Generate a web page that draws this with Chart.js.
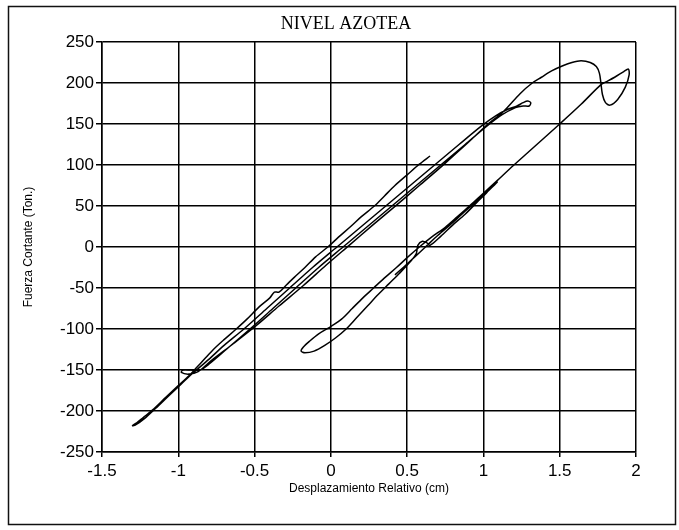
<!DOCTYPE html>
<html>
<head>
<meta charset="utf-8">
<script src="https://cdn.jsdelivr.net/npm/chart.js@4.4.1/dist/chart.umd.min.js"></script>
<style>
  html, body { margin: 0; padding: 0; background: #fff; }
  #wrap { width: 679px; height: 530px; position: relative; }
</style>
</head>
<body>
<div id="wrap"><canvas id="c" width="679" height="530"></canvas></div>
<script>
// Lazo histerético, nivel azotea: desplazamiento relativo (cm) vs. fuerza cortante (Ton.)
const desplazamiento = [
  0.65, 0.58, 0.50, 0.42, 0.35, 0.285, 0.20, 0.13, 0.05, -0.02, -0.10, -0.17, -0.24, -0.29, -0.34, -0.37, -0.40, -0.47, -0.55, -0.62, -0.70, -0.77, -0.83, -0.88,
  -0.93, -1.00, -1.08, -1.17, -1.23, -1.27, -1.30, -1.28, -1.22, -1.15, -1.06, -0.98, -0.90,
  -0.80, -0.70, -0.57, -0.42, -0.27, -0.12, 0.04, 0.20, 0.36, 0.52, 0.68, 0.84, 0.99, 1.08, 1.16, 1.22, 1.26, 1.29, 1.31, 1.30, 1.26, 1.21,
  1.12, 1.02, 0.88, 0.72, 0.56, 0.40, 0.24, 0.08, -0.08, -0.23, -0.38, -0.53, -0.68, -0.80, -0.86, -0.92, -0.97, -0.98, -0.93, -0.87,
  -0.78, -0.64, -0.49, -0.34, -0.18, -0.03, 0.12, 0.27, 0.43, 0.58, 0.73, 0.88, 1.03, 1.13, 1.24, 1.32, 1.38, 1.45, 1.52, 1.58, 1.64, 1.70, 1.74, 1.76, 1.77,
  1.78, 1.80, 1.83, 1.88, 1.93, 1.955, 1.95, 1.92, 1.86, 1.80, 1.77,
  1.64, 1.50, 1.35, 1.20, 1.09,
  0.98, 0.92, 0.83, 0.75, 0.66, 0.58, 0.50, 0.43, 0.35, 0.28, 0.21, 0.14, 0.07, 0.00, -0.08, -0.14, -0.18, -0.195,
  -0.17, -0.11, -0.04, 0.03, 0.10, 0.17, 0.24, 0.31, 0.38, 0.45, 0.52, 0.56, 0.57, 0.60, 0.63, 0.65, 0.72, 0.80, 0.88, 0.96, 1.02, 1.07, 1.09,
  1.04, 0.97, 0.90, 0.80, 0.70, 0.62, 0.55, 0.48, 0.42
];
const cortante = [
  111, 101, 88, 75, 62, 50, 37, 25, 12, 0, -12, -25, -37, -46, -55, -55, -62, -73, -88, -100, -113, -125, -137, -147,
  -157, -169, -183, -199, -208, -214, -218, -217, -209, -197, -181, -167, -153,
  -137, -120, -100, -75, -50, -25, 0, 25, 50, 75, 100, 125, 148, 160, 168, 172, 176, 178, 176, 172, 172, 170,
  161, 147, 125, 100, 75, 50, 25, 0, -25, -50, -75, -100, -124, -143, -150, -150, -150, -153, -155, -152,
  -138, -118, -96, -72, -47, -22, 2, 26, 51, 75, 99, 124, 150, 165, 187, 200, 207, 215, 221, 225, 227, 225, 220, 212, 200,
  186, 176, 173, 180, 195, 210, 217, 214, 207, 201, 198,
  174, 150, 125, 100, 81,
  62, 52, 37, 24, 12, 0, -13, -25, -38, -50, -62, -75, -88, -97, -106, -115, -122, -127,
  -129, -127, -120, -111, -100, -86, -72, -58, -45, -32, -18, -8, 2, 7, 5, 2, 13, 27, 40, 55, 66, 76, 79,
  70, 58, 47, 30, 14, 0, -12, -24, -34
];
const ticksX = [-1.5, -1, -0.5, 0, 0.5, 1, 1.5, 2];
const ticksY = [-250, -200, -150, -100, -50, 0, 50, 100, 150, 200, 250];

const puntos = desplazamiento.map((x, i) => ({ x: x, y: cortante[i] }));

// marco exterior y título de la gráfica
const marco = {
  id: 'marco',
  afterDraw(chart) {
    const ctx = chart.ctx;
    ctx.save();
    ctx.strokeStyle = '#111';
    ctx.lineWidth = 1.5;
    ctx.strokeRect(8.5, 6.5, 667, 518);
    ctx.fillStyle = '#000';
    ctx.font = '18px "Liberation Serif", "Times New Roman", serif';
    ctx.textAlign = 'center';
    ctx.textBaseline = 'middle';
    ctx.fillText('NIVEL AZOTEA', 346, 24);
    ctx.restore();
  }
};

const fuenteEjes = { family: '"Liberation Sans", Arial, sans-serif', size: 17 };
const fuenteTitulos = { family: '"Liberation Sans", Arial, sans-serif', size: 12 };

new Chart(document.getElementById('c'), {
  type: 'scatter',
  data: {
    datasets: [{
      data: puntos,
      showLine: true,
      borderColor: '#000',
      borderWidth: 1.5,
      pointRadius: 0,
      tension: 0.3,
      fill: false
    }]
  },
  options: {
    responsive: false,
    animation: false,
    layout: { padding: { left: 14, right: 43, top: 42, bottom: 34 } },
    plugins: { legend: { display: false }, tooltip: { enabled: false }, title: { display: false } },
    scales: {
      x: {
        type: 'linear',
        min: -1.5, max: 2,
        afterBuildTicks(s) { s.ticks = ticksX.map(v => ({ value: v })); },
        afterFit(s) { s.height = 44; },
        grid: { color: '#000', lineWidth: 1.5, tickLength: 5, drawTicks: true },
        border: { color: '#000', width: 1.5 },
        ticks: { color: '#000', font: fuenteEjes, padding: 4, maxRotation: 0, callback: v => String(v) },
        title: { display: true, text: 'Desplazamiento Relativo (cm)', color: '#000', font: fuenteTitulos, padding: { top: 0, bottom: 0 } }
      },
      y: {
        type: 'linear',
        min: -250, max: 250,
        afterBuildTicks(s) { s.ticks = ticksY.map(v => ({ value: v })); },
        afterFit(s) { s.width = 88; },
        grid: { color: '#000', lineWidth: 1.5, tickLength: 6, drawTicks: true },
        border: { color: '#000', width: 1.5 },
        ticks: { color: '#000', font: fuenteEjes, padding: 2, callback: v => String(v) },
        title: { display: true, text: 'Fuerza Cortante (Ton.)', color: '#000', font: fuenteTitulos, padding: { top: 7, bottom: 0 } }
      }
    }
  },
  plugins: [marco]
});
</script>
</body>
</html>
